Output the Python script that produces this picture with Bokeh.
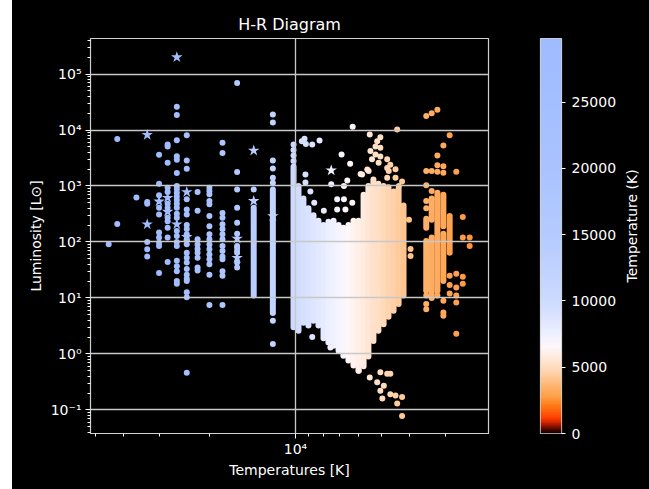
import numpy as np
from bokeh.plotting import figure
from bokeh.layouts import row
from bokeh.models import (Range1d, FixedTicker, LinearColorMapper, Label,
                          ColumnDataSource)
from bokeh.embed import file_html
from bokeh.resources import INLINE

# ---------------- data ----------------
# hot stars in catalogue-like temperature columns: T (K) and luminosities (L_sun)
col_T = [45000, 42000, 36000, 33000, 30000, 28000, 26000, 24000,
         22000, 20000, 18000, 16000, 14000, 12000, 10160]
col_L = [
    [91],
    [6900, 210],
    [620],
    [520, 480, 100, 74, 55],
    [3600, 1100, 680, 410, 310, 147, 120, 97, 85, 28],
    [5500, 5100, 2600, 930, 780, 480, 410, 270, 235, 180, 120, 44],
    [26000, 18600, 6600, 3400, 2950, 1700, 1000, 880, 760, 650, 560, 480,
     410, 320, 270, 157, 128, 100, 85, 46, 37, 30, 20, 18],
    [8100, 2860, 2040, 580, 380, 310, 200, 170, 137, 112, 91, 64, 52, 43,
     33, 26, 22, 20, 12.6, 10.3, 0.46],
    [780, 360, 112, 90, 75, 64, 52, 35, 31],
    [930, 810, 710, 540, 470, 290, 190, 137, 112, 90, 74, 60, 49, 40, 26, 7.5],
    [5900, 3900, 330, 270, 208, 170, 137, 112, 85, 69, 55, 49, 30, 25, 7.5],
    [69000, 1770, 870, 410, 220, 140, 85, 79, 69, 64, 43, 35],
    [870],
    [19000, 13700, 2860, 2060, 1400, 1140, 3.9, 1.5],
    [5500, 4400, 3500, 2800],
]

# stars drawn with a star marker
star_T = [33000, 33000, 30000, 28000, 28000, 26000, 26000, 24000, 24000,
          16000, 16000, 14000, 14000, 12000, 7500]
star_L = [8200, 207, 530, 617, 347, 2.0e5, 207, 780, 123,
          115, 52, 4300, 540, 290, 1900]

# densely packed stars: temperature and the luminosity span they fill
streak_T = [14000, 12000, 10160, 9760, 9380, 9010, 8650, 8310, 7980,
            7670, 7360, 7070, 6800, 6530, 6270, 6020, 5780, 5560,
            5340, 5130, 4920, 4730, 4540, 4360, 4190,
            3490, 3490, 3340, 3340, 3190, 3040, 3040, 2890]
streak_lo = [11, 5.4, 3.0, 2.6, 3.6, 3.2, 3.9, 3.2, 1.9,
             1.6, 1.4, 1.14, 0.93, 0.76, 0.62, 0.5, 0.6, 0.9,
             1.7, 2.6, 3.4, 4.6, 5.9, 7.8, 11,
             13.4, 180, 10, 250, 13.4, 20, 190, 64]
streak_hi = [410, 870, 2200, 1000, 600, 400, 300, 240, 200,
             230, 240, 200, 180, 200, 240, 240, 700, 1000,
             1300, 1100, 1000, 950, 800, 900, 450,
             104, 260, 120, 600, 760, 140, 700, 290]

# scattered stars around the main-sequence / giant cloud
mid_T = [9500, 9300, 9200, 8740, 8240, 6310, 5500, 4410, 6900, 6440,
         6590, 7500, 6770, 7150, 6770, 6690, 7960, 7150, 6330, 5920,
         5550, 5470, 5180, 5050, 5250, 5050, 5250, 5050, 5120, 5400,
         5470, 4780, 4660, 4780, 4720, 4780, 5850, 5610, 4470, 4470,
         4240, 4350, 9230, 9230, 8870, 8600, 8740, 7550, 6770, 6010,
         5500, 5050, 4780, 4660, 5180, 4910, 5050, 4660, 4470, 4970,
         4410, 4240, 4240, 3960, 3960, 4010]
mid_L = [6300, 7000, 5600, 5500, 6500, 11500, 8300, 10200, 3650, 2500,
         1260, 1070, 1000, 580, 580, 380, 360, 380, 500, 1640,
         1850, 930, 6300, 7400, 5100, 4800, 3650, 3350, 2600, 3000,
         4200, 3000, 2400, 2100, 1850, 1400, 1600, 1980, 2000, 1400,
         1200, 1000, 1600, 1150, 800, 500, 2.0, 1.3, 1.0, 0.50,
         0.38, 0.47, 0.44, 0.44, 0.31, 0.27, 0.22, 0.19, 0.18, 0.16,
         0.13, 0.17, 0.078, 75, 56, 250]

# cool (orange) stars
cool_T = [3490, 3340, 3190, 3490, 3340, 3190, 3040, 3040, 2740, 3190,
          3040, 2890, 3490, 3490, 3490, 3340, 3340, 3190, 3490, 3490,
          3490, 3190, 3040, 3040, 3040, 2890, 2890, 2890, 2740, 2740,
          2740, 2740, 2740, 2600, 2600, 2600, 2600, 2460, 2460]
cool_L = [17800, 20000, 23000, 1850, 1850, 1800, 2250, 1720, 1790, 3500,
          5300, 8100, 1030, 540, 400, 810, 580, 2350, 11, 7.8,
          6.3, 11, 8.9, 5.5, 4.8, 25, 17, 12, 27, 15.4,
          11, 8.3, 2.3, 280, 120, 24, 18, 120, 85]

title_text = "H-R Diagram"
x_label = "Temperatures [K]"
y_label = "Luminosity [L\u2299]"
cbar_label = "Temperature (K)"
x_tick_vals = [10000]
x_tick_labels = ["10\u2074"]
y_tick_vals = [0.1, 1, 10, 100, 1000, 10000, 100000]
y_tick_labels = ["10\u207b\u00b9", "10\u2070", "10\u00b9", "10\u00b2",
                 "10\u00b3", "10\u2074", "10\u2075"]
cbar_ticks = [0, 5000, 10000, 15000, 20000, 25000]
t_min, t_max = 0, 29800

# ---------------- colour map (styling) ----------------
anchors = [(0, "#1c0000"), (500, "#9a1200"), (1000, "#ff3a00"),
           (2000, "#ff7c16"), (2700, "#ffa04c"), (3500, "#ffb26c"),
           (4200, "#ffc998"), (5000, "#ffdcc0"), (5800, "#ffece2"),
           (6500, "#fff7fa"), (7200, "#f2f2ff"), (8000, "#e6ebff"),
           (9000, "#d9e2ff"), (10000, "#cddbff"), (12000, "#c1d3ff"),
           (15000, "#b5cbff"), (20000, "#aac3ff"), (25000, "#a4bfff"),
           (29800, "#a0bcff")]
a_t = [a for a, _ in anchors]
a_rgb = np.array([[int(h[i:i + 2], 16) for i in (1, 3, 5)] for _, h in anchors])
grid_t = np.linspace(t_min, t_max, 256)
palette = ["#%02x%02x%02x" % tuple(int(round(np.interp(g, a_t, a_rgb[:, k])))
                                   for k in range(3)) for g in grid_t]
mapper = LinearColorMapper(palette=palette, low=t_min, high=t_max,
                           high_color=palette[-1], low_color=palette[0])

FONT = "DejaVu Sans"
EDGE = "#d0d0d0"

# ---------------- main figure ----------------
p = figure(width=486, height=489, x_axis_type="log", y_axis_type="log",
           x_range=Range1d(52100, 2114), y_range=Range1d(0.0378, 432000),
           output_backend="svg", toolbar_location=None, title=title_text,
           min_border_left=78, min_border_right=10, min_border_top=37,
           min_border_bottom=56, background_fill_color="black",
           border_fill_color="black", outline_line_color=EDGE,
           outline_line_width=1.2)

p.title.text_color = "white"
p.title.align = "center"
p.title.text_font = FONT
p.title.text_font_size = "16px"
p.title.text_font_style = "normal"

seg_src = ColumnDataSource(dict(T=streak_T, lo=streak_lo, hi=streak_hi))
p.segment(x0="T", y0="lo", x1="T", y1="hi", source=seg_src, line_width=6,
          line_cap="round", line_color={"field": "T", "transform": mapper})

dot_T, dot_L = [], []
for t, ls in zip(col_T, col_L):
    dot_T += [t] * len(ls)
    dot_L += ls
dot_T += mid_T + cool_T
dot_L += mid_L + cool_L
dot_src = ColumnDataSource(dict(T=dot_T, L=dot_L))
p.scatter(x="T", y="L", source=dot_src, marker="circle", size=6,
          line_color=None, fill_color={"field": "T", "transform": mapper})

star_src = ColumnDataSource(dict(T=star_T, L=star_L))
p.scatter(x="T", y="L", source=star_src, marker="star", size=12,
          line_color=None, fill_color={"field": "T", "transform": mapper})

minor_x = [3000, 4000, 5000, 6000, 7000, 8000, 9000, 20000, 30000, 40000, 50000]
minor_y = [d * 10.0 ** k for k in range(-2, 6) for d in range(2, 10)]
p.xaxis.ticker = FixedTicker(ticks=x_tick_vals, minor_ticks=minor_x)
p.yaxis.ticker = FixedTicker(ticks=y_tick_vals, minor_ticks=minor_y)
p.xaxis.major_label_overrides = dict(zip(x_tick_vals, x_tick_labels))
p.yaxis.major_label_overrides = dict(zip(y_tick_vals, y_tick_labels))
p.xaxis.axis_label = x_label
p.yaxis.axis_label = y_label


def style_axis(ax):
    ax.axis_line_color = EDGE
    ax.major_tick_line_color = "white"
    ax.minor_tick_line_color = "white"
    ax.major_tick_out = 5
    ax.major_tick_in = 0
    ax.minor_tick_out = 3
    ax.minor_tick_in = 0
    ax.major_label_text_color = "white"
    ax.major_label_text_font = FONT
    ax.major_label_text_font_size = "14px"
    ax.axis_label_text_color = "white"
    ax.axis_label_text_font = FONT
    ax.axis_label_text_font_size = "14px"
    ax.axis_label_text_font_style = "normal"
    ax.major_label_standoff = 4
    ax.axis_label_standoff = 4


style_axis(p.xaxis[0])
style_axis(p.yaxis[0])
p.xaxis.major_label_standoff = 2
p.xaxis.axis_label_standoff = 2

p.xgrid.ticker = FixedTicker(ticks=x_tick_vals)
p.ygrid.ticker = FixedTicker(ticks=y_tick_vals)
for g in (p.xgrid[0], p.ygrid[0]):
    g.grid_line_color = "#c8c8c8"
    g.grid_line_width = 1.3
    g.level = "overlay"

# ---------------- colour bar figure ----------------
cb = figure(width=125, height=489, x_range=Range1d(0, 1),
            y_range=Range1d(t_min, t_max), output_backend="svg",
            toolbar_location=None, x_axis_location=None,
            y_axis_location="right", min_border_left=42, min_border_right=62,
            min_border_top=38, min_border_bottom=56,
            background_fill_color="black", border_fill_color="black",
            outline_line_color=EDGE, outline_line_width=1.2)
gradient = np.linspace(t_min, t_max, 400).reshape(-1, 1)
cb.image(image=[gradient], x=0, y=t_min, dw=1, dh=t_max - t_min,
         color_mapper=mapper)
cb.yaxis.ticker = FixedTicker(ticks=cbar_ticks, minor_ticks=[])
style_axis(cb.yaxis[0])
cb.yaxis.major_tick_out = 4
cb.yaxis.major_label_standoff = 6
cb.yaxis.axis_line_color = None
cb.grid.visible = False

# ---------------- colour bar label ----------------
lab_fig = figure(width=26, height=489, x_range=Range1d(0, 26),
                 y_range=Range1d(0, 489), output_backend="svg",
                 toolbar_location=None, x_axis_location=None,
                 y_axis_location=None, min_border=0,
                 background_fill_color="black", border_fill_color="black",
                 outline_line_color=None)
lab_fig.grid.visible = False
lab_fig.add_layout(Label(x=8, y=257, text=cbar_label, angle=90,
                         angle_units="deg", text_color="white",
                         text_font=FONT, text_font_size="14px",
                         text_align="center", text_baseline="middle"))

layout = row(p, cb, lab_fig, margin=(0, 0, 0, 12), spacing=0,
             styles={"background-color": "black"})
open("out.html", "w").write(file_html(layout, INLINE))
